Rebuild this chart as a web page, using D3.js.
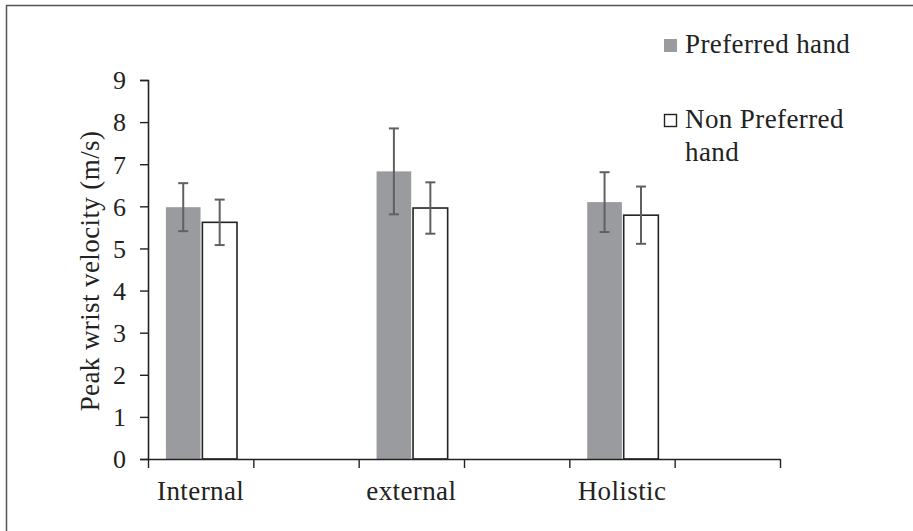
<!DOCTYPE html>
<html>
<head>
<meta charset="utf-8">
<script src="https://cdn.jsdelivr.net/npm/d3@7"></script>
<style>
  body { margin: 0; background: #fff; }
  svg { display: block; }
  svg text { font-family: "Liberation Serif", "Times New Roman", Times, serif !important; }
</style>
</head>
<body>
<svg width="913" height="531"></svg>
<script>
// excel-style slots: every category is followed by an empty slot
var slots = ["Internal", "gap1", "external", "gap2", "Holistic", "gap3"];
var categories = ["Internal", "external", "Holistic"];
var series = ["Preferred hand", "Non Preferred hand"];
var preferred = [5.98, 6.83, 6.10];
var preferredErr = [0.57, 1.02, 0.71];
var nonPreferred = [5.62, 5.96, 5.79];
var nonPreferredErr = [0.54, 0.61, 0.68];
var yTicks = [0, 1, 2, 3, 4, 5, 6, 7, 8, 9];

var svg = d3.select("svg"),
    margin = {top: 80, left: 148},
    plotW = 632,
    plotH = 379;

// outer frame
svg.append("rect")
    .attr("x", 6.5).attr("y", 5.5)
    .attr("width", 1000).attr("height", 1000)
    .attr("fill", "none")
    .attr("stroke", "#555")
    .attr("stroke-width", 1.5);

var g = svg.append("g")
    .attr("transform", "translate(" + margin.left + "," + margin.top + ")");

var x = d3.scaleBand().domain(slots).range([0, plotW]);
var xEdge = d3.scaleLinear().domain([0, slots.length]).range([0, plotW]);
var x1 = d3.scaleBand().domain(series)
    .range([x.bandwidth() * 0.17, x.bandwidth() * 0.845])
    .paddingInner(0.05);
var y = d3.scaleLinear().domain([0, 9]).range([plotH, 0]);

var rows = [];
categories.forEach(function(c, i) {
  rows.push({cat: c, s: series[0], v: preferred[i], e: preferredErr[i]});
  rows.push({cat: c, s: series[1], v: nonPreferred[i], e: nonPreferredErr[i]});
});

// bars
g.selectAll("rect.bar")
  .data(rows)
  .enter().append("rect")
    .attr("class", "bar")
    .attr("x", function(d) { return x(d.cat) + x1(d.s); })
    .attr("y", function(d) { return y(d.v); })
    .attr("width", x1.bandwidth())
    .attr("height", function(d) { return plotH - y(d.v); })
    .attr("fill", function(d) { return d.s == series[0] ? "#9a9b9f" : "#fff"; })
    .attr("stroke", function(d) { return d.s == series[0] ? "none" : "#222"; })
    .attr("stroke-width", 1.6);

// error bars
var eb = g.selectAll("g.err")
  .data(rows)
  .enter().append("g")
    .attr("class", "err")
    .attr("stroke", "#606060")
    .attr("stroke-width", 2);
var cx = function(d) { return x(d.cat) + x1(d.s) + x1.bandwidth() / 2; };
eb.append("line")
    .attr("x1", cx).attr("x2", cx)
    .attr("y1", function(d) { return y(d.v + d.e); })
    .attr("y2", function(d) { return y(d.v - d.e); });
eb.append("line")
    .attr("x1", function(d) { return cx(d) - 5; }).attr("x2", function(d) { return cx(d) + 5; })
    .attr("y1", function(d) { return y(d.v + d.e); })
    .attr("y2", function(d) { return y(d.v + d.e); });
eb.append("line")
    .attr("x1", function(d) { return cx(d) - 5; }).attr("x2", function(d) { return cx(d) + 5; })
    .attr("y1", function(d) { return y(d.v - d.e); })
    .attr("y2", function(d) { return y(d.v - d.e); });

// y axis
var yAxis = g.append("g")
    .call(d3.axisLeft(y).tickValues(yTicks).tickSize(8).tickPadding(14).tickFormat(d3.format("d")));
yAxis.select(".domain").attr("stroke", "#222").attr("stroke-width", 1.6);
yAxis.selectAll(".tick line").attr("stroke", "#222").attr("stroke-width", 1.4);
yAxis.selectAll(".tick text")
    .attr("fill", "#222")
    .attr("font-size", 26)
    .attr("dy", "0.34em");

// x axis: ticks on slot edges
var xAxis = g.append("g")
    .attr("transform", "translate(0," + plotH + ")")
    .call(d3.axisBottom(xEdge).tickValues(d3.range(slots.length + 1)).tickSize(9).tickFormat("").tickSizeOuter(0));
xAxis.select(".domain").attr("stroke", "#222").attr("stroke-width", 1.6);
xAxis.selectAll(".tick line").attr("stroke", "#222").attr("stroke-width", 1.4);

function label(sel) {
  return sel.attr("font-size", 27)
    .attr("letter-spacing", 0.4)
    .attr("fill", "#222");
}

g.selectAll("text.cat")
  .data(categories)
  .enter().append("text")
    .attr("class", "cat")
    .attr("x", function(d) { return x(d) + x.bandwidth() / 2; })
    .attr("y", plotH + 41)
    .attr("text-anchor", "middle")
    .call(label)
    .text(function(d) { return d; });

// y title
svg.append("text")
    .attr("transform", "translate(99,271) rotate(-90)")
    .attr("text-anchor", "middle")
    .call(label)
    .text("Peak wrist velocity (m/s)");

// legend
var legend = svg.append("g");
legend.append("rect")
    .attr("x", 664).attr("y", 39)
    .attr("width", 13).attr("height", 13)
    .attr("fill", "#9a9b9f");
legend.append("text")
    .attr("x", 685).attr("y", 53)
    .call(label)
    .text(series[0]);
legend.append("rect")
    .attr("x", 664.5).attr("y", 114.5)
    .attr("width", 12).attr("height", 12)
    .attr("fill", "#fff")
    .attr("stroke", "#222")
    .attr("stroke-width", 1.4);
legend.append("text")
    .attr("x", 685).attr("y", 128)
    .call(label)
    .text("Non Preferred");
legend.append("text")
    .attr("x", 685).attr("y", 161)
    .call(label)
    .text("hand");
</script>
</body>
</html>
